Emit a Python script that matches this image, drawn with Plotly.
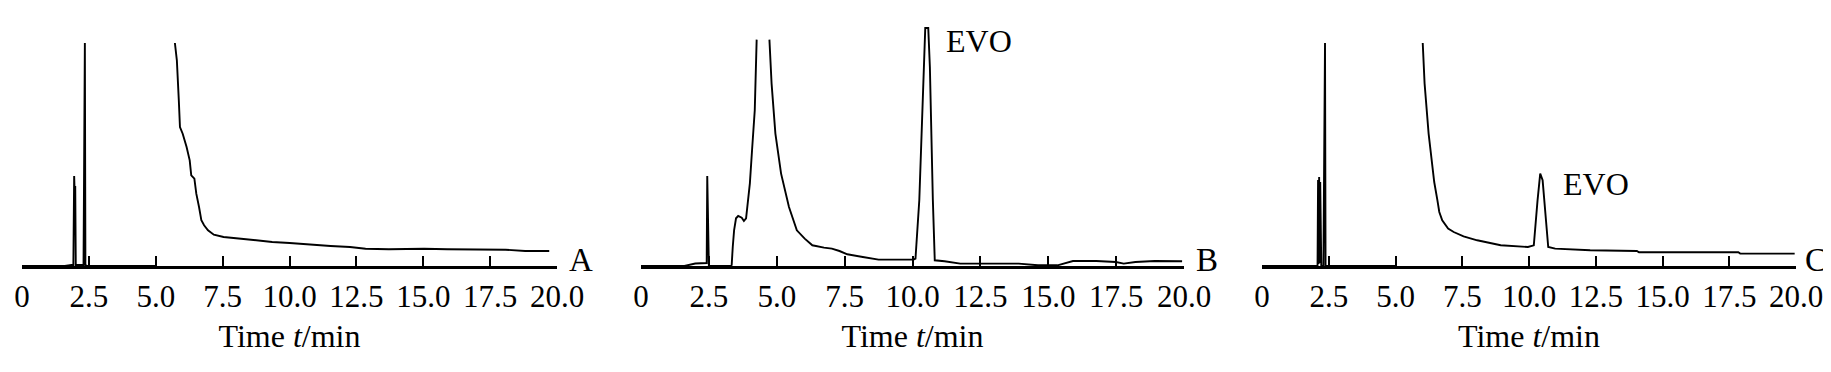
import plotly.graph_objects as go

# ---------------- data (time in min, detector signal in arbitrary units) ----------------
time_a = [0, 1.60, 1.85, 1.92, 1.95, 1.97, 1.99, 2.01, 2.30, 2.33, 2.35, 2.37, 2.45, 5.0, None,
          5.716, 5.789, 5.862, 5.905, 6.007, 6.153, 6.269, 6.327, 6.444, 6.516, 6.618, 6.705,
          6.807, 6.953, 7.171, 7.535, 8.189, 9.353, 10.007, 10.807, 11.535, 12.262, 12.844,
          13.716, 14.44, 15.03, 15.9, 16.63, 17.5, 18.08, 18.81, 19.71]
signal_a = [0, 0, 1, 1, 90, 72, 80, 1, 1, 223, 223, 1, 0, 0, None,
            223, 205.7, 165.7, 139, 132.3, 119, 105.7, 90.7, 87.3, 72.3, 59, 45.7,
            40.7, 35.7, 31.3, 29, 27.3, 24, 23, 21.3, 20, 19, 17.3,
            16.7, 17, 17.3, 16.7, 16.7, 17, 16.3, 15, 15]

time_b = [0, 1.60, 2.00, 2.38, 2.42, 2.44, 2.46, 2.50, 3.30, 3.34, 3.38, 3.43, 3.50, 3.58,
          3.71, 3.79, 3.87, 3.95, 4.01, 4.09, 4.19, 4.26, None,
          4.73, 4.81, 4.95, 5.16, 5.45, 5.74, 6.03, 6.31, 6.74, 7.03, 7.31, 7.60, 8.17,
          8.75, 10.04, 10.11, 10.25, 10.39, 10.47, 10.58, 10.64, 10.75, 10.82, 11.18,
          11.76, 12.47, 13.91, 14.62, 15.34, 15.91, 16.77, 17.49, 17.78, 18.21, 18.92, 19.93]
signal_b = [0, 0, 2.5, 3, 3, 90, 60, 0, 0, 1, 19.3, 36, 47.7, 50,
            48.3, 45, 47.7, 66, 82.7, 115.7, 155.7, 226.4, None,
            226.4, 182.4, 132.4, 92.4, 59, 35.7, 27.4, 20.7, 18.4, 17.4, 15, 11.7, 9,
            6.4, 6.4, 7.4, 65.7, 165.7, 238, 238, 199, 65.7, 5.7, 4.7,
            2.4, 2.4, 2.4, 0.7, 0.7, 5, 5, 4, 2.4, 4, 5, 4.7]

time_c = [0, 1.70, 2.08, 2.10, 2.12, 2.14, 2.16, 2.18, 2.20, 2.22, 2.30, 2.34, 2.36, 2.38,
          2.45, 5.0, None,
          6.02, 6.09, 6.24, 6.38, 6.45, 6.57, 6.64, 6.75, 6.97, 7.18, 7.55, 8.06, 8.94,
          9.96, 10.18, 10.32, 10.42, 10.51, 10.61, 10.72, 10.98, 11.56, 12.29, 14.04,
          14.12, 17.84, 17.91, 19.95]
signal_c = [0, 0, 0, 86, 2, 89, 3, 84, 2, 0, 0, 223, 223, 0,
            0, 0, None,
            223, 182.4, 132.4, 99, 84, 65.7, 54, 45.7, 37.4, 34, 29.7, 25.7, 20.7,
            19, 20.7, 65.7, 92.4, 85.7, 49, 19, 17.4, 16.4, 15.7, 15,
            13.7, 13.7, 12.4, 12.4]

tick_vals = [0, 2.5, 5.0, 7.5, 10.0, 12.5, 15.0, 17.5, 20.0]
tick_text = ["0", "2.5", "5.0", "7.5", "10.0", "12.5", "15.0", "17.5", "20.0"]
panel_labels = ["A", "B", "C"]
peak_label = "EVO"
evo_label_pos_b = (11.15, 225)
evo_label_pos_c = (11.2, 82)

# ---------------- figure ----------------
# the page has an 8 px body margin: figure starts at (8, 8) and reaches the window edge
OFF = 8
W, H = 1831 - OFF, 372 - OFF
FONT = "Liberation Serif"

fig = go.Figure()
series = [(time_a, signal_a), (time_b, signal_b), (time_c, signal_c)]
for i, (tx, sy) in enumerate(series):
    sfx = "" if i == 0 else str(i + 1)
    fig.add_trace(go.Scatter(x=tx, y=sy, mode="lines", xaxis="x" + sfx, yaxis="y" + sfx,
                             line=dict(color="#000000", width=1.9), connectgaps=False,
                             showlegend=False, hoverinfo="skip", cliponaxis=False))

# pixel extents of each panel (window coordinates)
pix = [(22, 557), (641, 1184), (1262, 1796)]
layout_axes = {}
for i, (p0, p1) in enumerate(pix):
    sfx = "" if i == 0 else str(i + 1)
    layout_axes["xaxis" + sfx] = dict(
        domain=[(p0 - OFF) / W, (p1 - OFF) / W], range=[0, 20], anchor="y" + sfx,
        automargin=False, ticklabeloverflow="allow",
        tickvals=tick_vals, ticktext=tick_text, ticks="inside", ticklen=10, tickwidth=2.2,
        tickcolor="#000", showline=True, linewidth=3, linecolor="#000", showgrid=False,
        zeroline=False, ticklabelstandoff=1,
        tickfont=dict(family=FONT, size=31, color="#000"),
        title=dict(text="Time <i>t</i>/min", font=dict(family=FONT, size=32, color="#000"),
                   standoff=12),
        fixedrange=True)
    layout_axes["yaxis" + sfx] = dict(
        domain=[0, 1], range=[0, 242], anchor="x" + sfx, visible=False, fixedrange=True,
        automargin=False)

annotations = []
for i, lab in enumerate(panel_labels):
    sfx = "" if i == 0 else str(i + 1)
    annotations.append(dict(text=lab, x=20, y=0, xref="x" + sfx, yref="y" + sfx,
                            xanchor="left", yanchor="bottom", xshift=10 if i < 2 else 7,
                            yshift=-14, showarrow=False,
                            font=dict(family=FONT, size=33, color="#000")))
annotations.append(dict(text=peak_label, x=evo_label_pos_b[0], y=evo_label_pos_b[1],
                        xref="x2", yref="y2", xanchor="left", yanchor="middle",
                        showarrow=False, font=dict(family=FONT, size=32, color="#000")))
annotations.append(dict(text=peak_label, x=evo_label_pos_c[0], y=evo_label_pos_c[1],
                        xref="x3", yref="y3", xanchor="left", yanchor="middle",
                        showarrow=False, font=dict(family=FONT, size=32, color="#000")))

fig.update_layout(width=W, height=H, margin=dict(l=0, r=0, t=24 - OFF, b=H - (266 - OFF),
                                                 autoexpand=False),
                  paper_bgcolor="white", plot_bgcolor="white",
                  annotations=annotations, **layout_axes)

fig.write_html("out.html", config={"displayModeBar": False})
